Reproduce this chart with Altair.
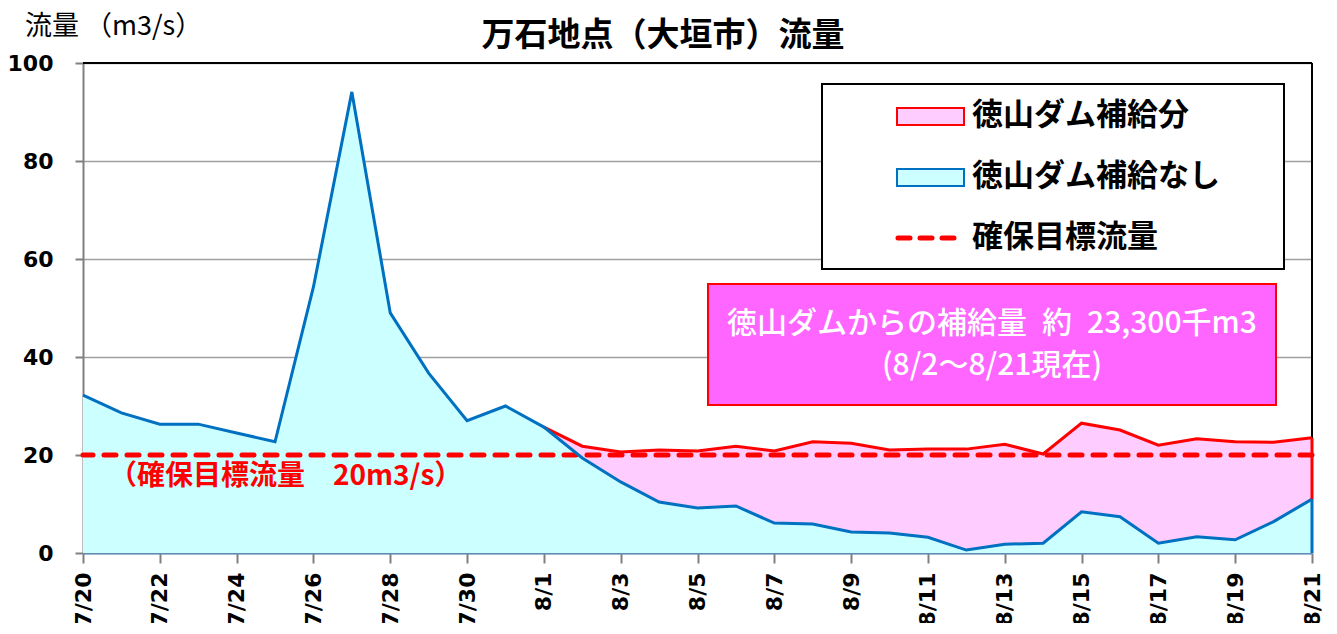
import altair as alt
import pandas as pd

# ---- data ----
dates = ["7/20", "7/21", "7/22", "7/23", "7/24", "7/25", "7/26", "7/27", "7/28", "7/29",
         "7/30", "7/31", "8/1", "8/2", "8/3", "8/4", "8/5", "8/6", "8/7", "8/8", "8/9",
         "8/10", "8/11", "8/12", "8/13", "8/14", "8/15", "8/16", "8/17", "8/18", "8/19",
         "8/20", "8/21"]
no_supply = [32.2, 28.6, 26.3, 26.3, 24.5, 22.7, 54.3, 94.1, 49.0, 36.7, 27.0, 30.0,
             25.7, 19.4, 14.5, 10.4, 9.2, 9.6, 6.1, 5.9, 4.3, 4.1, 3.2, 0.6, 1.8, 2.0,
             8.4, 7.4, 2.0, 3.3, 2.7, 6.4, 11.0]
supply_start = "8/1"
with_supply = [25.7, 21.8, 20.6, 21.0, 20.8, 21.8, 20.8, 22.7, 22.4, 21.0, 21.2, 21.2,
               22.2, 20.2, 26.5, 25.1, 22.0, 23.3, 22.7, 22.6, 23.5]
target = 20
tick_days = list(range(0, len(dates), 2))

title_text = "万石地点（大垣市）流量"
y_title_text = "流量 （m3/s）"
legend_labels = ["徳山ダム補給分", "徳山ダム補給なし", "確保目標流量"]
target_label = "（確保目標流量　20m3/s）"
box_lines = ["徳山ダムからの補給量\u2002約\u200223,300千m3", "(8/2～8/21現在)"]

# ---- tables ----
start = dates.index(supply_start)
df = pd.DataFrame({"day": list(range(len(dates))), "label": dates, "blue": no_supply})
df["red"] = [None] * start + with_supply
df_sup = df.dropna(subset=["red"]).copy()
df_last = df_sup.tail(1).copy()

W, H = 1229, 490
JP = "Noto Sans CJK JP"
NUM = "DejaVu Sans"

label_expr = "[" + ",".join("'%s'" % d for d in dates) + "][datum.value]"

x_enc = alt.X("day:Q", scale=alt.Scale(domain=[0, len(dates) - 1], nice=False),
              axis=alt.Axis(values=tick_days, labelExpr=label_expr, labelAngle=270,
                            labelAlign="right", labelBaseline="middle",
                            labelFont=NUM, labelFontWeight="bold", labelFontSize=22,
                            labelColor="black", tickSize=10, tickColor="#808080",
                            tickWidth=2, labelPadding=9, domainColor="#5F8BB5",
                            domainWidth=2, grid=False, title=None))
y_scale = alt.Scale(domain=[0, 100], nice=False)
y_axis = alt.Axis(values=[0, 20, 40, 60, 80, 100], labelFont=NUM, labelFontWeight="bold",
                  labelFontSize=22, labelColor="black", tickSize=8, tickColor="#808080",
                  tickWidth=2, labelPadding=22, domainColor="#808080", domainWidth=2,
                  grid=True, gridColor="#A0A0A0", gridWidth=1.5, title=None)

base = alt.Chart(df)

blue_area = base.mark_area(color="#CCFFFF", opacity=1).encode(
    x=x_enc, y=alt.Y("blue:Q", scale=y_scale, axis=y_axis))
pink_area = alt.Chart(df_sup).mark_area(color="#FFCCFF", opacity=1).encode(
    x="day:Q", y="red:Q", y2="blue:Q")
target_rule = alt.Chart(pd.DataFrame({"t": [target]})).mark_rule(
    color="#FF0000", strokeWidth=5, strokeDash=[12, 11], strokeCap="round").encode(y="t:Q")
red_line = alt.Chart(df_sup).mark_line(color="#FF0000", strokeWidth=3).encode(
    x="day:Q", y="red:Q")
blue_line = base.mark_line(color="#0070C0", strokeWidth=3).encode(x="day:Q", y="blue:Q")
red_edge = alt.Chart(df_last).mark_rule(color="#FF0000", strokeWidth=3).encode(
    x="day:Q", y="blue:Q", y2="red:Q")
blue_edge = alt.Chart(df_last).mark_rule(color="#0070C0", strokeWidth=3).encode(
    x="day:Q", y="blue:Q", y2=alt.Y2(datum=0))

one = alt.Chart(pd.DataFrame({"k": [0]}))
top_border = one.mark_rule(color="black", strokeWidth=2).encode(
    x=alt.value(0), x2=alt.value(W), y=alt.value(0))
right_border = one.mark_rule(color="black", strokeWidth=2).encode(
    x=alt.value(W), y=alt.value(0), y2=alt.value(H))

target_text = alt.Chart(pd.DataFrame({"d": [0], "v": [target], "s": [target_label]})).mark_text(
    align="left", baseline="middle", font=JP, fontSize=28, fontWeight="bold",
    color="#FF0000", dx=26, dy=22).encode(x="d:Q", y="v:Q", text="s:N")

title = one.mark_text(font=JP, fontSize=33, fontWeight="bold", color="black",
                      align="center", baseline="middle").encode(
    x=alt.value(580), y=alt.value(-27), text=alt.value(title_text))
y_title = one.mark_text(font=JP, fontSize=27, color="black", align="left",
                        baseline="middle").encode(
    x=alt.value(-58), y=alt.value(-36), text=alt.value(y_title_text))

# legend box
leg_box = one.mark_rect(fill="white", stroke="black", strokeWidth=2).encode(
    x=alt.value(739), x2=alt.value(1201), y=alt.value(21), y2=alt.value(206))
sw1 = one.mark_rect(fill="#FFCCFF", stroke="#FF0000", strokeWidth=2).encode(
    x=alt.value(814), x2=alt.value(881), y=alt.value(45), y2=alt.value(62))
sw2 = one.mark_rect(fill="#CCFFFF", stroke="#0070C0", strokeWidth=2).encode(
    x=alt.value(814), x2=alt.value(881), y=alt.value(106), y2=alt.value(123))
sw3 = one.mark_rule(color="#FF0000", strokeWidth=5, strokeDash=[12, 10], strokeCap="round").encode(
    x=alt.value(815), x2=alt.value(875), y=alt.value(175))
leg_df = pd.DataFrame({"s": legend_labels, "yy": [53, 114, 175]})
leg_text = alt.Chart(leg_df).mark_text(font=JP, fontSize=31, fontWeight="bold", color="black",
                                       align="left", baseline="middle").encode(
    x=alt.value(889), y=alt.Y("yy:Q", scale=None), text="s:N")

# supply annotation box
ann_box = one.mark_rect(fill="#FF66FF", stroke="#FF0000", strokeWidth=2).encode(
    x=alt.value(625), x2=alt.value(1193), y=alt.value(221), y2=alt.value(342))
ann_df = pd.DataFrame({"s": box_lines, "yy": [261, 303]})
ann_text = alt.Chart(ann_df).mark_text(font=JP, fontSize=30, fontWeight=500, color="white",
                                       align="center", baseline="middle").encode(
    x=alt.value(909), y=alt.Y("yy:Q", scale=None), text="s:N")

chart = alt.layer(
    blue_area, pink_area, target_rule, top_border, right_border,
    red_line, blue_line, red_edge, blue_edge, target_text, title, y_title,
    leg_box, sw1, sw2, sw3, leg_text, ann_box, ann_text
).properties(
    width=W, height=H,
    autosize=alt.AutoSizeParams(type="none"),
    padding={"left": 75, "top": 55, "right": 14, "bottom": 70},
).configure_view(stroke="transparent")

chart.save("out.html", embed_options={"renderer": "svg", "actions": False})
